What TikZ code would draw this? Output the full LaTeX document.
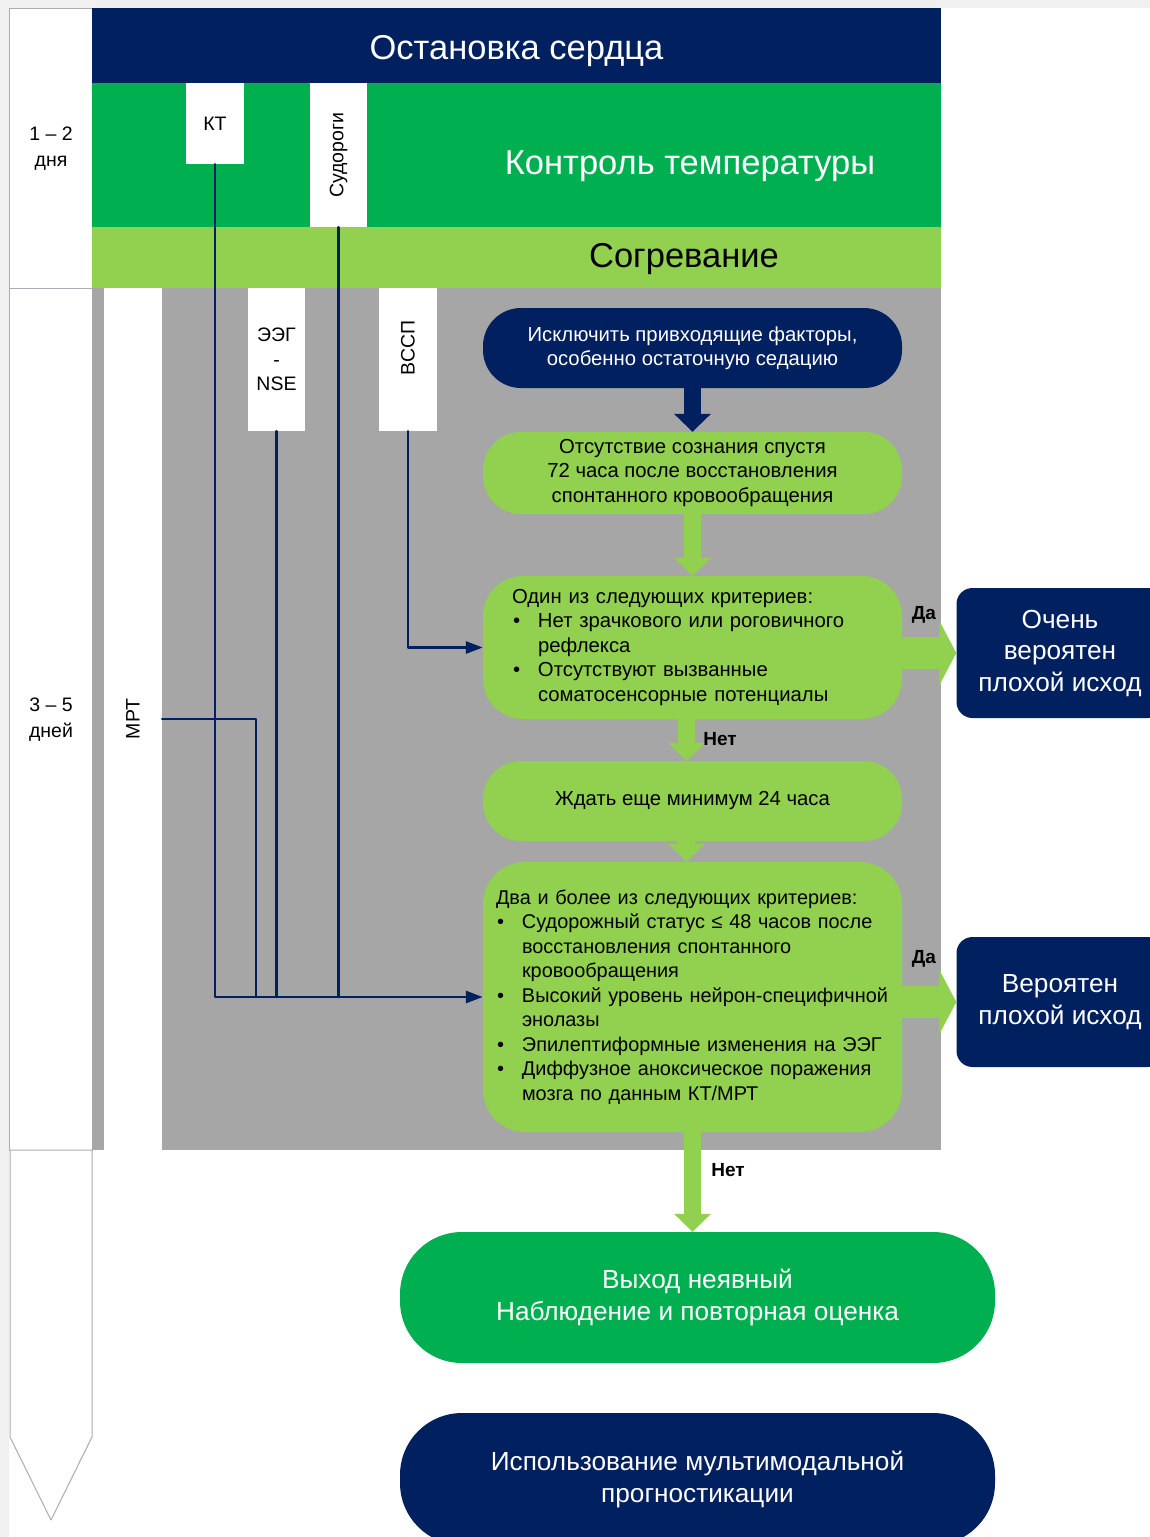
\documentclass[tikz,border=0pt]{standalone}
\usepackage{fontspec}
\setmainfont{Liberation Sans}
\usetikzlibrary{arrows.meta}

\definecolor{navy}{RGB}{0,32,96}
\definecolor{tgreen}{RGB}{0,176,80}
\definecolor{lgreen}{RGB}{146,208,80}
\definecolor{panel}{RGB}{166,166,166}
\definecolor{frame}{RGB}{168,172,184}
\definecolor{edge}{RGB}{240,240,240}

\newcommand{\fsz}[2]{\fontsize{#1pt}{#2pt}\selectfont}
\newcommand{\itm}[1]{\makebox[26pt][l]{\hspace{1pt}\textbullet}\mbox{#1}}
\newcommand{\cnt}[1]{\hspace*{26pt}\mbox{#1}}

\begin{document}
\begin{tikzpicture}[x=1pt, y=-1pt, line cap=round, line join=round,
  link/.style={draw=navy, line width=2.8pt},
  tip/.style={-{Triangle[length=17pt,width=12pt]}},
  tag/.style={fill=white, inner sep=0pt, align=center, font=\fsz{19.5}{24.5}},
  flow/.style={rounded corners=38pt, minimum width=419pt, inner sep=0pt, align=center, font=\fsz{20.3}{24.5}},
  outcome/.style={fill=navy, text=white, rounded corners=16pt, minimum width=207pt, minimum height=130pt, inner sep=0pt, align=center, font=\fsz{26.2}{31.5}},
  final/.style={rounded corners=62pt, minimum width=595pt, inner sep=0pt, text=white, align=center, font=\fsz{26.2}{32}},
  bigdown/.style={draw=#1, line width=17pt, line cap=butt, -{Triangle[width=36pt,length=18pt]}},
  bigright/.style={draw=lgreen, line width=32pt, line cap=butt, -{Triangle[width=64pt,length=17pt]}},
  answer/.style={font=\bfseries\fsz{19}{22}}]
\useasboundingbox (0,0) rectangle (1150,1537);

% screenshot edge
\fill[edge] (0,0) rectangle (1150,8);
\fill[edge] (0,0) rectangle (9,1537);

% time scale
\draw[frame, line width=1pt, fill=white] (9,8) rectangle (92,288);
\draw[frame, line width=1pt, fill=white] (9,288) rectangle (92,1150);
\draw[frame, line width=1pt, fill=white] (10,1150) -- (92,1150) -- (92,1437) -- (51,1520) -- (10,1437) -- cycle;
\node[align=center, font=\fsz{19.5}{26}] (days12) at (51,149) {1 – 2\\дня};
\node[align=center, font=\fsz{19.5}{26}] (days35) at (51,720) {3 – 5\\дней};

% bands
\fill[navy] (92,8) rectangle (941,83);
\fill[tgreen] (92,83) rectangle (941,227);
\fill[lgreen] (92,227) rectangle (941,288);
\fill[panel] (92,288) rectangle (941,1150);
\node[text=white, font=\fsz{34.5}{40}] (arrest) at (516.5,51) {Остановка сердца};
\node[text=white, font=\fsz{34.5}{40}] (cooling) at (690,166) {Контроль температуры};
\node[font=\fsz{34.5}{40}] (rewarm) at (684,259) {Согревание};

% test columns
\node[tag, minimum width=58pt, minimum height=862pt] (mrt) at (133,719) {\rotatebox{90}{МРТ}};
\node[tag, minimum width=58pt, minimum height=81pt] (kt) at (215,123.5) {КТ};
\node[tag, minimum width=57pt, minimum height=144pt] (seiz) at (338.5,155) {\rotatebox{90}{Судороги}};
\node[tag, minimum width=57pt, minimum height=143pt] (eeg) at (276.5,359.5) {ЭЭГ\\-\\NSE};
\node[tag, minimum width=58pt, minimum height=143pt] (vssp) at (408,359.5) {\rotatebox{90}{\hspace*{23pt}ВССП}};

% flow
\node[flow, fill=navy, text=white, minimum height=80pt] (b1) at (692.5,348)
  {Исключить привходящие факторы,\\особенно остаточную седацию};
\node[flow, fill=lgreen, minimum height=82pt] (b2) at (692.5,473)
  {Отсутствие сознания спустя\\72 часа после восстановления\\спонтанного кровообращения};
\node[flow, fill=lgreen, minimum height=143pt, rounded corners=40pt, text width=361pt, align=left] (b3) at (692.5,647.5)
  {Один из следующих критериев:\\
   \itm{Нет зрачкового или роговичного}\\
   \cnt{рефлекса}\\
   \itm{Отсутствуют вызванные}\\
   \cnt{соматосенсорные потенциалы}};
\node[flow, fill=lgreen, minimum height=80pt] (b5) at (692.5,801) {Ждать еще минимум 24 часа};
\node[flow, fill=lgreen, minimum height=270pt, rounded corners=42pt, text width=393pt, align=left, font=\fsz{19.9}{24.5}] (b6) at (692.5,997)
  {Два и более из следующих критериев:\\
   \itm{Судорожный статус ≤ 48 часов после}\\
   \cnt{восстановления спонтанного}\\
   \cnt{кровообращения}\\
   \itm{Высокий уровень нейрон-специфичной}\\
   \cnt{энолазы}\\
   \itm{Эпилептиформные изменения на ЭЭГ}\\
   \itm{Диффузное аноксическое поражения}\\
   \cnt{мозга по данным КТ/МРТ}};
\node[outcome] (b4) at (1060,653) {Очень\\вероятен\\плохой исход};
\node[outcome] (b7) at (1060,1002) {Вероятен\\плохой исход};
\node[final, fill=tgreen, minimum height=131pt] (b8) at (697.5,1297.5)
  {Выход неявный\\Наблюдение и повторная оценка};
\node[final, fill=navy, minimum height=132pt] (b9) at (697.5,1479)
  {Использование мультимодальной\\прогностикации};

% test lines
\coordinate (mrtbus) at (256,997);
\draw[link, tip] (kt.south) |- (b6.west);
\draw[link] (seiz.south) -- (seiz.south |- b6.west);
\draw[link] (eeg.south) -- (eeg.south |- b6.west);
\draw[link] (mrt.east) -| (mrtbus);
\draw[link, tip] (vssp.south) |- (b3.west);

% flow arrows
\draw[bigdown=navy] (b1.south) -- (b2.north);
\draw[bigdown=lgreen] (b2.south) -- (b3.north);
\draw[bigdown=lgreen] ([xshift=-6pt]b3.south) -- ([xshift=-6pt]b5.north);
\draw[bigdown=lgreen] ([xshift=-6pt]b5.south) -- ([xshift=-6pt]b6.north);
\draw[bigdown=lgreen] (b6.south) -- (b6.south |- b8.north);
\draw[bigright] (b3.east |- b4.west) -- (b4.west);
\draw[bigright] (b6.east |- b7.west) -- (b7.west);

\node[answer] (yes1) at (924,615) {Да};
\node[answer] (yes2) at (924,959) {Да};
\node[answer] (no1) at (720,739) {Нет};
\node[answer] (no2) at (728,1170) {Нет};
\end{tikzpicture}
\end{document}
